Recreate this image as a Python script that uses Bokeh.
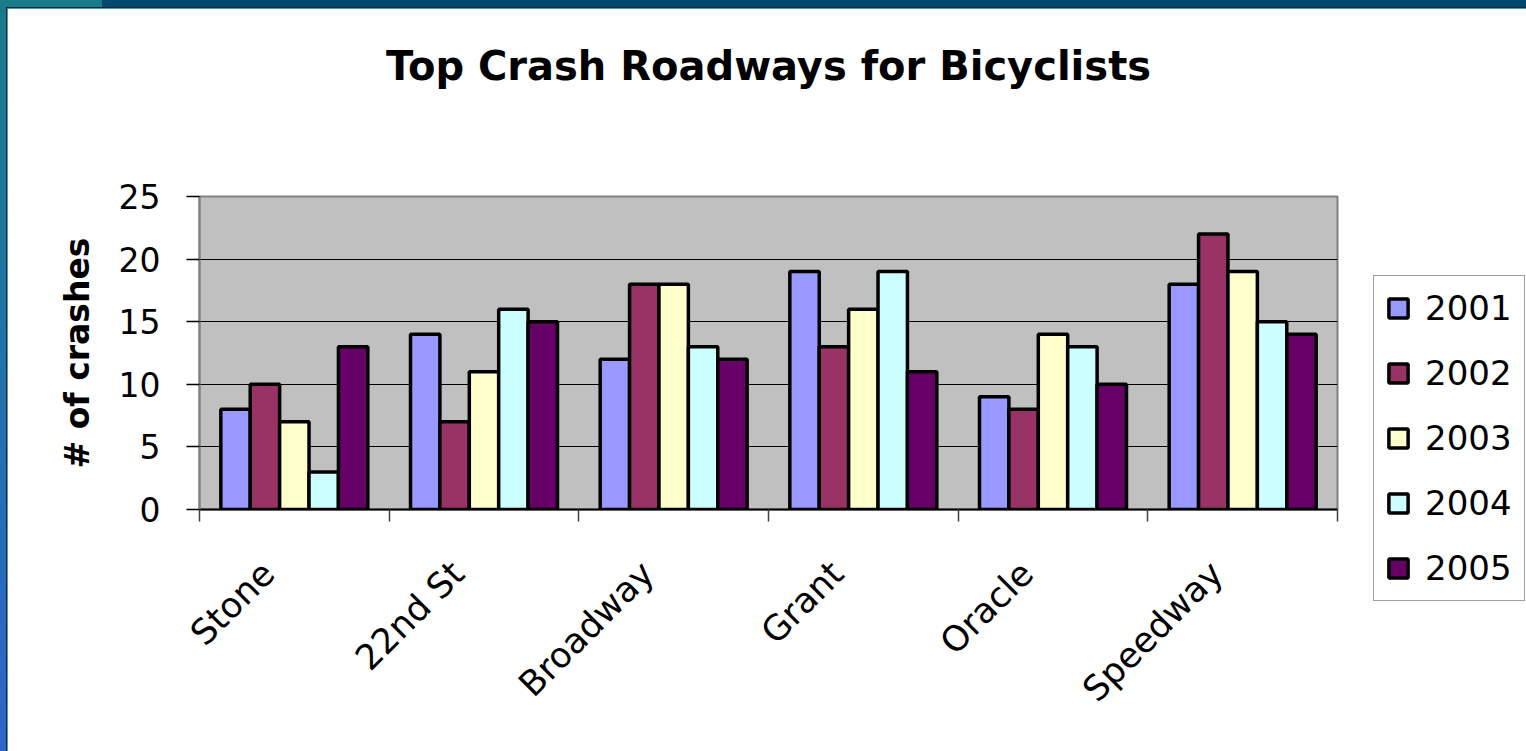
import numpy as np
from bokeh.plotting import figure
from bokeh.models import ColumnDataSource, FixedTicker, Legend, LegendItem, Range1d, Title
from bokeh.embed import file_html
from bokeh.resources import INLINE

# ---- data ----
roads = ["Stone", "22nd St", "Broadway", "Grant", "Oracle", "Speedway"]
years = ["2001", "2002", "2003", "2004", "2005"]
crashes_2001 = [8, 14, 12, 19, 9, 18]
crashes_2002 = [10, 7, 18, 13, 8, 22]
crashes_2003 = [7, 11, 18, 16, 14, 19]
crashes_2004 = [3, 16, 13, 19, 13, 15]
crashes_2005 = [13, 15, 12, 11, 10, 14]
y_ticks = [0, 5, 10, 15, 20, 25]

series = [crashes_2001, crashes_2002, crashes_2003, crashes_2004, crashes_2005]
colors = ["#9999FF", "#993366", "#FFFFCC", "#CCFFFF", "#660066"]

FONT = "DejaVu Sans"
bar_w = 0.155
label_shift = 0.137   # rotated labels end slightly left of the category centre

p = figure(width=1519, height=743, frame_width=1138, frame_height=313,
           x_range=Range1d(0, len(roads)), y_range=Range1d(0, 25),
           output_backend="svg", toolbar_location=None,
           min_border_left=192, min_border_right=189, min_border_top=188, min_border_bottom=242)

p.background_fill_color = "#C0C0C0"
p.border_fill_color = "white"
p.outline_line_color = "#808080"
p.outline_line_width = 2

# spacer between frame and title (keeps the title high above the plot)
p.add_layout(Title(text=" ", text_font_size="10px", standoff=90), "above")

p.title.text = "Top Crash Roadways for Bicyclists"
p.title.align = "center"
p.title.vertical_align = "bottom"
p.title.text_font = FONT
p.title.text_font_size = "40px"
p.title.text_font_style = "bold"
p.title.text_color = "black"
p.title.standoff = 10

renderers = []
centers = np.arange(len(roads)) + 0.5
for j, (vals, col) in enumerate(zip(series, colors)):
    src = ColumnDataSource(dict(x=centers + (j - 2) * bar_w, top=vals))
    r = p.vbar(x="x", top="top", bottom=0, width=bar_w, source=src,
               fill_color=col, line_color="black", line_width=3.5)
    renderers.append(r)

# grid
p.xgrid.visible = False
p.ygrid.grid_line_color = "black"
p.ygrid.grid_line_width = 1
p.ygrid.ticker = FixedTicker(ticks=[5, 10, 15, 20])

# x axis: labels near centres, tick marks at category boundaries (minor ticks)
label_pos = [float(c - label_shift) for c in centers]
xa = p.xaxis[0]
xa.ticker = FixedTicker(ticks=label_pos, minor_ticks=list(range(len(roads) + 1)))
xa.major_label_overrides = {lp: name for lp, name in zip(label_pos, roads)}
xa.major_label_orientation = np.pi / 4
xa.major_label_text_font = FONT
xa.major_label_text_font_size = "35px"
xa.major_label_text_color = "black"
xa.major_label_standoff = 46
xa.major_tick_out = 0
xa.major_tick_in = 0
xa.minor_tick_out = 12
xa.minor_tick_in = 0
xa.minor_tick_line_color = "#404040"
xa.minor_tick_line_width = 1.5
xa.axis_line_color = "black"
xa.axis_line_width = 2

ya = p.yaxis[0]
ya.ticker = FixedTicker(ticks=y_ticks, minor_ticks=[])
ya.major_label_text_font = FONT
ya.major_label_text_font_size = "33px"
ya.major_label_text_color = "black"
ya.major_label_standoff = 26
ya.major_tick_out = 13
ya.major_tick_in = 0
ya.major_tick_line_color = "black"
ya.major_tick_line_width = 1.5
ya.minor_tick_line_color = None
ya.axis_line_color = "#808080"
ya.axis_line_width = 2
ya.axis_label = "# of crashes"
ya.axis_label_text_font = FONT
ya.axis_label_text_font_size = "33px"
ya.axis_label_text_font_style = "bold"
ya.axis_label_text_color = "black"
ya.axis_label_standoff = 19

legend = Legend(items=[LegendItem(label=yr, renderers=[r]) for yr, r in zip(years, renderers)],
                location=(36, -92), orientation="vertical")
legend.label_text_font = FONT
legend.label_text_font_size = "34px"
legend.label_text_color = "black"
legend.glyph_width = 24
legend.glyph_height = 24
legend.label_height = 24
legend.label_standoff = 15
legend.spacing = 25
legend.padding = 12
legend.margin = 0
legend.border_line_color = "#404040"
legend.border_line_width = 1
legend.background_fill_color = "white"
legend.background_fill_alpha = 1
p.add_layout(legend, "right")

html = file_html(p, INLINE, title="Top Crash Roadways for Bicyclists")
css = """<style>
html, body { height: 100%; }
body { margin: 0; padding: 8px 0 0 7px; box-sizing: border-box; overflow: hidden;
  background:
    linear-gradient(#1b2a33, #1b2a33) 6px 7px / 100% 1px no-repeat,
    linear-gradient(#1b2a33, #1b2a33) 6px 7px / 1px 100% no-repeat,
    linear-gradient(to right, #1a7b8b 0, #1a7b8b 102px, #00486e 102px) 0 0 / 100% 7px no-repeat,
    linear-gradient(to bottom, #187b8a, #2e66c8) 0 0 / 100% 100% no-repeat;
}
</style>"""
html = html.replace("</head>", css + "</head>", 1)
open("out.html", "w").write(html)
